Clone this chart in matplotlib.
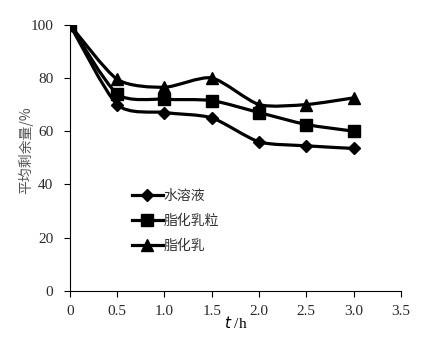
import matplotlib
matplotlib.use('Agg')
import numpy as np
import matplotlib.pyplot as plt
from matplotlib.path import Path
from matplotlib.patches import PathPatch
from matplotlib.lines import Line2D

t = [0, 0.5, 1.0, 1.5, 2.0, 2.5, 3.0]
water = [100, 70, 67, 65, 56, 54.5, 53.5]
particle = [100, 74, 72, 71.5, 67, 62.5, 60]
emulsion = [100, 79.5, 76.5, 80, 70, 70, 72.5]
names = ['水溶液', '脂化乳粒', '脂化乳']
markers = ['D', 's', '^']
msizes = [6.5, 8.5, 8]

plt.rcParams['font.family'] = ['Liberation Serif', 'Noto Sans CJK SC']


def smooth_path(x, y, k=0.12):
    # Excel-style smoothed line: bezier segments through data points
    x = np.asarray(x, float)
    y = np.asarray(y, float)
    verts = [(x[0], y[0])]
    codes = [Path.MOVETO]
    n = len(x)
    for i in range(n - 1):
        p0 = np.array([x[max(i - 1, 0)], y[max(i - 1, 0)]])
        p1 = np.array([x[i], y[i]])
        p2 = np.array([x[i + 1], y[i + 1]])
        p3 = np.array([x[min(i + 2, n - 1)], y[min(i + 2, n - 1)]])
        c1 = p1 + (p2 - p0) * k
        c2 = p2 - (p3 - p1) * k
        verts += [tuple(c1), tuple(c2), tuple(p2)]
        codes += [Path.CURVE4] * 3
    return Path(verts, codes)


fig = plt.figure(figsize=(4.26, 3.43), dpi=100)
ax = fig.add_axes([0.164, 0.152, 0.777, 0.776])

handles = []
for ys, name, m, ms in zip([water, particle, emulsion], names, markers, msizes):
    ax.add_patch(PathPatch(smooth_path(t, ys), fill=False, lw=2.3,
                           edgecolor='black', capstyle='round', zorder=2))
    ax.plot(t, ys, linestyle='none', marker=m, ms=ms, color='black', zorder=3)
    handles.append(Line2D([], [], color='black', lw=2.3, marker=m, ms=ms))

ax.set_xlim(0, 3.5)
ax.set_ylim(0, 100)
ax.set_xticks([0, 0.5, 1.0, 1.5, 2.0, 2.5, 3.0, 3.5])
ax.set_xticklabels(['0', '0.5', '1.0', '1.5', '2.0', '2.5', '3.0', '3.5'])
ax.set_yticks([0, 20, 40, 60, 80, 100])
ax.spines['top'].set_visible(False)
ax.spines['right'].set_visible(False)
ax.spines['left'].set_linewidth(0.8)
ax.spines['bottom'].set_linewidth(0.8)
ax.tick_params(axis='x', direction='out', length=4, width=0.8, labelsize=11, pad=6)
ax.tick_params(axis='y', direction='out', length=4, width=0.8, labelsize=11, pad=8)
for lab in ax.get_xticklabels() + ax.get_yticklabels():
    lab.set_color('#2a2a2a')

ax.set_xlabel(r'$\it{t}$ /h', fontsize=11, labelpad=-2, family='Liberation Serif')
ax.set_ylabel('平均剩余量/%', fontsize=10, color='#555555',
              family=['Noto Sans CJK SC'])
ax.yaxis.set_label_coords(-0.112, 0.53)

leg = ax.legend(handles, names, loc='upper left', bbox_to_anchor=(0.15, 0.43),
                frameon=False, handlelength=2.2, handletextpad=0.1,
                labelspacing=0.8, prop={'family': 'Noto Sans CJK SC', 'size': 10})
for txt in leg.get_texts():
    txt.set_color('#333333')

fig.savefig('out.png', dpi=100)
